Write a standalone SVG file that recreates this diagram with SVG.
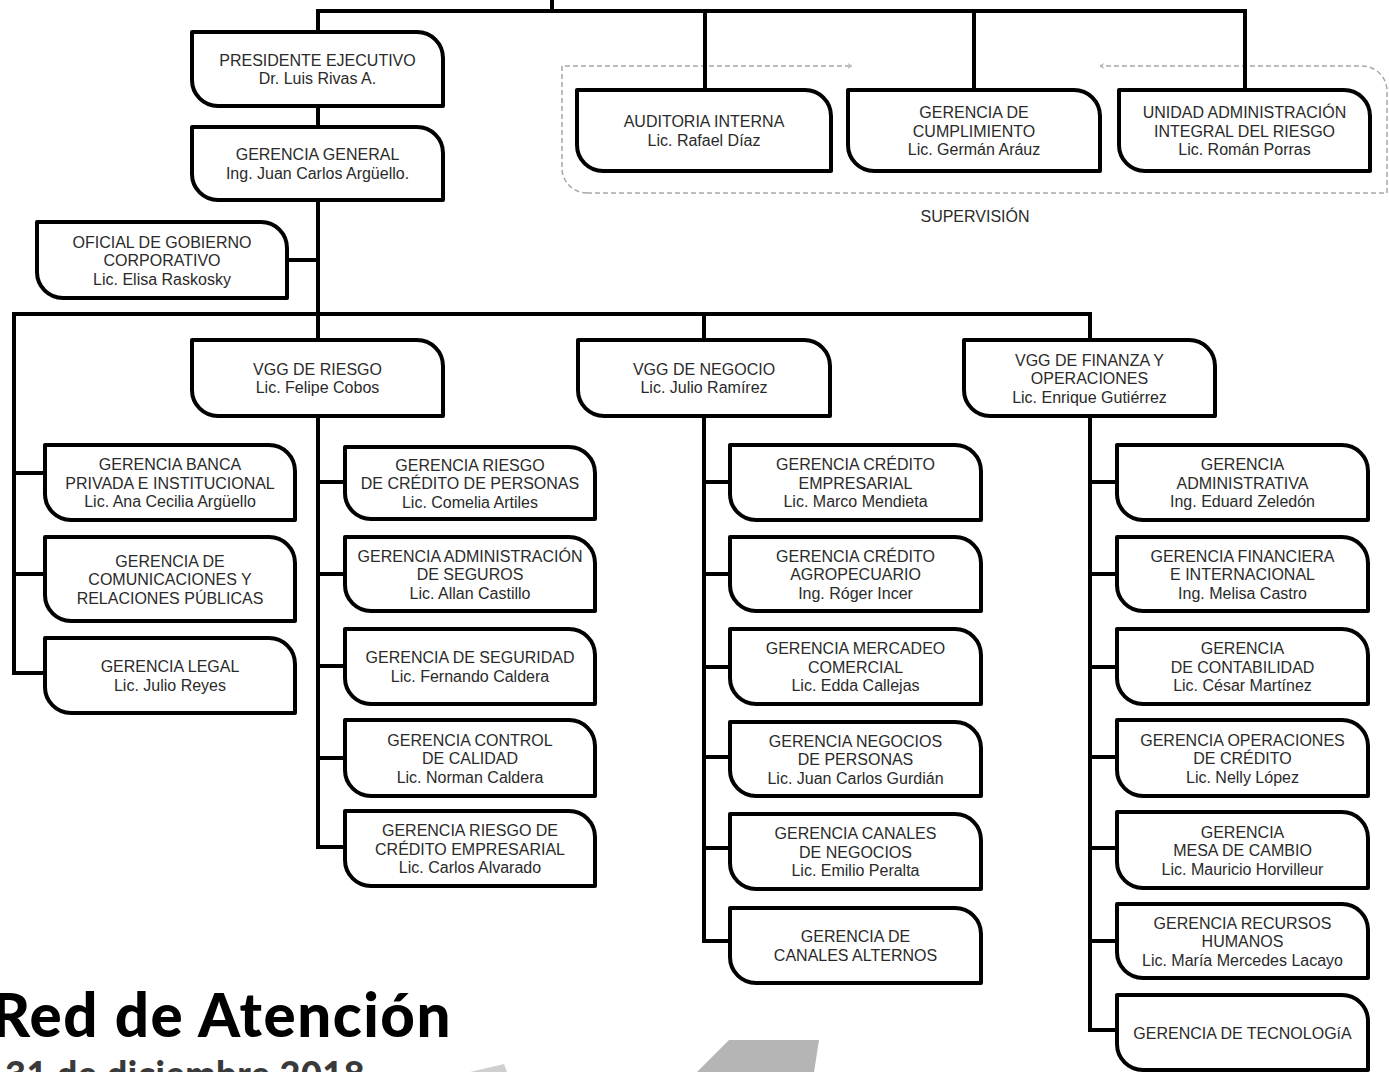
<svg xmlns="http://www.w3.org/2000/svg" width="1389" height="1072" viewBox="0 0 1389 1072">
<style>
.bx{fill:#fff;stroke:#000;stroke-width:4;stroke-linejoin:round}
.c{fill:none;stroke:#000;stroke-width:4;stroke-linejoin:miter}
.t{font-family:"Liberation Sans",Arial,sans-serif;font-size:16px;fill:#2a2a2a;text-anchor:middle}
.d{fill:none;stroke:#a8a8a8;stroke-width:1.5;stroke-dasharray:5 3}
</style>
<defs>
<marker id="ah" viewBox="0 0 10 10" refX="9" refY="5" markerWidth="6" markerHeight="6" orient="auto" markerUnits="userSpaceOnUse">
<path d="M2 1L9 5L2 9" fill="none" stroke="#a8a8a8" stroke-width="1.5"/>
</marker>
</defs>
<rect width="1389" height="1072" fill="#fff"/>
<g id="background">
<polygon points="729,1040 819,1040 814,1072 697,1072" fill="#b5b5b5"/>
<polygon points="470,1072 504,1064 507,1072" fill="#cfcfcf"/>
<text x="452" y="1037" text-anchor="end" font-family="Lato,'Open Sans',sans-serif" font-weight="900" font-size="60" letter-spacing="1.5" fill="#000">Red de Atención</text>
<text x="5" y="1087" font-family="Lato,'Open Sans',sans-serif" font-weight="900" font-size="36" letter-spacing="0.5" fill="#3a3a3a">31 de diciembre 2018</text>
</g>
<g id="supervision">
<path class="d" d="M587 193A25 25 0 0 1 562 168V66H852" marker-end="url(#ah)"/>
<path class="d" d="M587 193H1387V91A25 25 0 0 0 1362 66H1100" marker-end="url(#ah)"/>
<text class="t" x="975" y="222" font-size="15">SUPERVISIÓN</text>
</g>
<g id="connectors">
<path class="c" d="M552 0V11"/>
<path class="c" d="M318 32V11H1245V90"/>
<path class="c" d="M705 11V90M974 11V90"/>
<path class="c" d="M318 106V127M318 200V340M287 260H318"/>
<path class="c" d="M45 673H14V314H1090V340M704 314V340M45 473H14M45 574H14"/>
<path class="c" d="M318 416V847H345M318 482H345M318 574H345M318 666H345M318 758H345"/>
<path class="c" d="M704 416V941H730M704 482H730M704 574H730M704 667H730M704 757H730M704 848H730"/>
<path class="c" d="M1090 416V1030H1117M1090 482H1117M1090 574H1117M1090 667H1117M1090 757H1117M1090 848H1117M1090 941H1117"/>
</g>
<g id="presidente"><path class="bx" d="M192 32H417A26 26 0 0 1 443 58V106H218A26 26 0 0 1 192 80Z"/>
<text class="t" x="317.5" y="65.75">PRESIDENTE EJECUTIVO</text><text class="t" x="317.5" y="84.25">Dr. Luis Rivas A.</text></g>
<g id="general"><path class="bx" d="M192 127H417A26 26 0 0 1 443 153V200H218A26 26 0 0 1 192 174Z"/>
<text class="t" x="317.5" y="160.25">GERENCIA GENERAL</text><text class="t" x="317.5" y="178.75">Ing. Juan Carlos Argüello.</text></g>
<g id="oficial"><path class="bx" d="M37 222H261A26 26 0 0 1 287 248V298H63A26 26 0 0 1 37 272Z"/>
<text class="t" x="162" y="247.5">OFICIAL DE GOBIERNO</text><text class="t" x="162" y="266">CORPORATIVO</text><text class="t" x="162" y="284.5">Lic. Elisa Raskosky</text></g>
<g id="auditoria"><path class="bx" d="M577 90H805A26 26 0 0 1 831 116V171H603A26 26 0 0 1 577 145Z"/>
<text class="t" x="704" y="127.25">AUDITORIA INTERNA</text><text class="t" x="704" y="145.75">Lic. Rafael Díaz</text></g>
<g id="cumplimiento"><path class="bx" d="M848 90H1074A26 26 0 0 1 1100 116V171H874A26 26 0 0 1 848 145Z"/>
<text class="t" x="974" y="118">GERENCIA DE</text><text class="t" x="974" y="136.5">CUMPLIMIENTO</text><text class="t" x="974" y="155">Lic. Germán Aráuz</text></g>
<g id="unidad"><path class="bx" d="M1119 90H1344A26 26 0 0 1 1370 116V171H1145A26 26 0 0 1 1119 145Z"/>
<text class="t" x="1244.5" y="118">UNIDAD ADMINISTRACIÓN</text><text class="t" x="1244.5" y="136.5">INTEGRAL DEL RIESGO</text><text class="t" x="1244.5" y="155">Lic. Román Porras</text></g>
<g id="vgg-riesgo"><path class="bx" d="M192 340H417A26 26 0 0 1 443 366V416H218A26 26 0 0 1 192 390Z"/>
<text class="t" x="317.5" y="374.75">VGG DE RIESGO</text><text class="t" x="317.5" y="393.25">Lic. Felipe Cobos</text></g>
<g id="vgg-negocio"><path class="bx" d="M578 340H804A26 26 0 0 1 830 366V416H604A26 26 0 0 1 578 390Z"/>
<text class="t" x="704" y="374.75">VGG DE NEGOCIO</text><text class="t" x="704" y="393.25">Lic. Julio Ramírez</text></g>
<g id="vgg-finanza"><path class="bx" d="M964 340H1189A26 26 0 0 1 1215 366V416H990A26 26 0 0 1 964 390Z"/>
<text class="t" x="1089.5" y="365.5">VGG DE FINANZA Y</text><text class="t" x="1089.5" y="384">OPERACIONES</text><text class="t" x="1089.5" y="402.5">Lic. Enrique Gutiérrez</text></g>
<g id="banca"><path class="bx" d="M45 445H269A26 26 0 0 1 295 471V520H71A26 26 0 0 1 45 494Z"/>
<text class="t" x="170" y="470">GERENCIA BANCA</text><text class="t" x="170" y="488.5">PRIVADA E INSTITUCIONAL</text><text class="t" x="170" y="507">Lic. Ana Cecilia Argüello</text></g>
<g id="comunicaciones"><path class="bx" d="M45 537H269A26 26 0 0 1 295 563V621H71A26 26 0 0 1 45 595Z"/>
<text class="t" x="170" y="566.5">GERENCIA DE</text><text class="t" x="170" y="585">COMUNICACIONES Y</text><text class="t" x="170" y="603.5">RELACIONES PÚBLICAS</text></g>
<g id="legal"><path class="bx" d="M45 638H269A26 26 0 0 1 295 664V713H71A26 26 0 0 1 45 687Z"/>
<text class="t" x="170" y="672.25">GERENCIA LEGAL</text><text class="t" x="170" y="690.75">Lic. Julio Reyes</text></g>
<g id="riesgo-personas"><path class="bx" d="M345 447H569A26 26 0 0 1 595 473V519H371A26 26 0 0 1 345 493Z"/>
<text class="t" x="470" y="470.5">GERENCIA RIESGO</text><text class="t" x="470" y="489">DE CRÉDITO DE PERSONAS</text><text class="t" x="470" y="507.5">Lic. Comelia Artiles</text></g>
<g id="seguros"><path class="bx" d="M345 537H569A26 26 0 0 1 595 563V611H371A26 26 0 0 1 345 585Z"/>
<text class="t" x="470" y="561.5">GERENCIA ADMINISTRACIÓN</text><text class="t" x="470" y="580">DE SEGUROS</text><text class="t" x="470" y="598.5">Lic. Allan Castillo</text></g>
<g id="seguridad"><path class="bx" d="M345 629H569A26 26 0 0 1 595 655V704H371A26 26 0 0 1 345 678Z"/>
<text class="t" x="470" y="663.25">GERENCIA DE SEGURIDAD</text><text class="t" x="470" y="681.75">Lic. Fernando Caldera</text></g>
<g id="calidad"><path class="bx" d="M345 720H569A26 26 0 0 1 595 746V796H371A26 26 0 0 1 345 770Z"/>
<text class="t" x="470" y="745.5">GERENCIA CONTROL</text><text class="t" x="470" y="764">DE CALIDAD</text><text class="t" x="470" y="782.5">Lic. Norman Caldera</text></g>
<g id="riesgo-empresarial"><path class="bx" d="M345 811H569A26 26 0 0 1 595 837V886H371A26 26 0 0 1 345 860Z"/>
<text class="t" x="470" y="836">GERENCIA RIESGO DE</text><text class="t" x="470" y="854.5">CRÉDITO EMPRESARIAL</text><text class="t" x="470" y="873">Lic. Carlos Alvarado</text></g>
<g id="credito-empresarial"><path class="bx" d="M730 445H955A26 26 0 0 1 981 471V520H756A26 26 0 0 1 730 494Z"/>
<text class="t" x="855.5" y="470">GERENCIA CRÉDITO</text><text class="t" x="855.5" y="488.5">EMPRESARIAL</text><text class="t" x="855.5" y="507">Lic. Marco Mendieta</text></g>
<g id="agropecuario"><path class="bx" d="M730 537H955A26 26 0 0 1 981 563V611H756A26 26 0 0 1 730 585Z"/>
<text class="t" x="855.5" y="561.5">GERENCIA CRÉDITO</text><text class="t" x="855.5" y="580">AGROPECUARIO</text><text class="t" x="855.5" y="598.5">Ing. Róger Incer</text></g>
<g id="mercadeo"><path class="bx" d="M730 629H955A26 26 0 0 1 981 655V704H756A26 26 0 0 1 730 678Z"/>
<text class="t" x="855.5" y="654">GERENCIA MERCADEO</text><text class="t" x="855.5" y="672.5">COMERCIAL</text><text class="t" x="855.5" y="691">Lic. Edda Callejas</text></g>
<g id="negocios-personas"><path class="bx" d="M730 722H955A26 26 0 0 1 981 748V796H756A26 26 0 0 1 730 770Z"/>
<text class="t" x="855.5" y="746.5">GERENCIA NEGOCIOS</text><text class="t" x="855.5" y="765">DE PERSONAS</text><text class="t" x="855.5" y="783.5">Lic. Juan Carlos Gurdián</text></g>
<g id="canales-negocios"><path class="bx" d="M730 814H955A26 26 0 0 1 981 840V889H756A26 26 0 0 1 730 863Z"/>
<text class="t" x="855.5" y="839">GERENCIA CANALES</text><text class="t" x="855.5" y="857.5">DE NEGOCIOS</text><text class="t" x="855.5" y="876">Lic. Emilio Peralta</text></g>
<g id="canales-alternos"><path class="bx" d="M730 908H955A26 26 0 0 1 981 934V983H756A26 26 0 0 1 730 957Z"/>
<text class="t" x="855.5" y="942.25">GERENCIA DE</text><text class="t" x="855.5" y="960.75">CANALES ALTERNOS</text></g>
<g id="administrativa"><path class="bx" d="M1117 445H1342A26 26 0 0 1 1368 471V520H1143A26 26 0 0 1 1117 494Z"/>
<text class="t" x="1242.5" y="470">GERENCIA</text><text class="t" x="1242.5" y="488.5">ADMINISTRATIVA</text><text class="t" x="1242.5" y="507">Ing. Eduard Zeledón</text></g>
<g id="financiera"><path class="bx" d="M1117 537H1342A26 26 0 0 1 1368 563V611H1143A26 26 0 0 1 1117 585Z"/>
<text class="t" x="1242.5" y="561.5">GERENCIA FINANCIERA</text><text class="t" x="1242.5" y="580">E INTERNACIONAL</text><text class="t" x="1242.5" y="598.5">Ing. Melisa Castro</text></g>
<g id="contabilidad"><path class="bx" d="M1117 629H1342A26 26 0 0 1 1368 655V704H1143A26 26 0 0 1 1117 678Z"/>
<text class="t" x="1242.5" y="654">GERENCIA</text><text class="t" x="1242.5" y="672.5">DE CONTABILIDAD</text><text class="t" x="1242.5" y="691">Lic. César Martínez</text></g>
<g id="operaciones-credito"><path class="bx" d="M1117 720H1342A26 26 0 0 1 1368 746V796H1143A26 26 0 0 1 1117 770Z"/>
<text class="t" x="1242.5" y="745.5">GERENCIA OPERACIONES</text><text class="t" x="1242.5" y="764">DE CRÉDITO</text><text class="t" x="1242.5" y="782.5">Lic. Nelly López</text></g>
<g id="mesa-cambio"><path class="bx" d="M1117 812H1342A26 26 0 0 1 1368 838V888H1143A26 26 0 0 1 1117 862Z"/>
<text class="t" x="1242.5" y="837.5">GERENCIA</text><text class="t" x="1242.5" y="856">MESA DE CAMBIO</text><text class="t" x="1242.5" y="874.5">Lic. Mauricio Horvilleur</text></g>
<g id="recursos-humanos"><path class="bx" d="M1117 904H1342A26 26 0 0 1 1368 930V978H1143A26 26 0 0 1 1117 952Z"/>
<text class="t" x="1242.5" y="928.5">GERENCIA RECURSOS</text><text class="t" x="1242.5" y="947">HUMANOS</text><text class="t" x="1242.5" y="965.5">Lic. María Mercedes Lacayo</text></g>
<g id="tecnologia"><path class="bx" d="M1117 995H1342A26 26 0 0 1 1368 1021V1070H1143A26 26 0 0 1 1117 1044Z"/>
<text class="t" x="1242.5" y="1038.5">GERENCIA DE TECNOLOGíA</text></g>
</svg>
